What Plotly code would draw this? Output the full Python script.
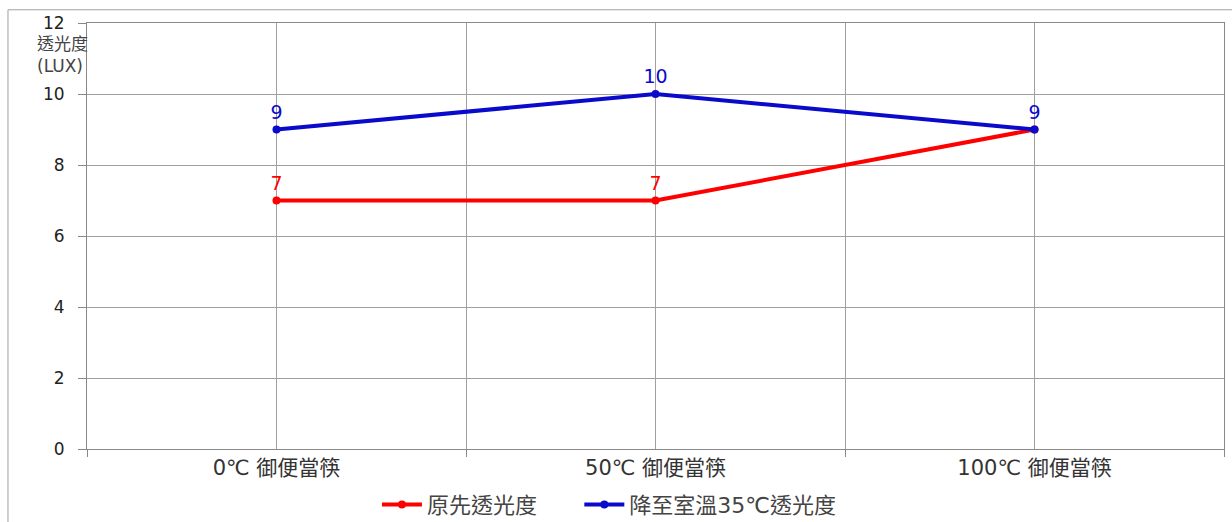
import plotly.graph_objects as go

# Chart data
categories = ["0℃ 御便當筷", "50℃ 御便當筷", "100℃ 御便當筷"]
series_names = ["原先透光度", "降至室溫35℃透光度"]
original_lux = [7, 7, 9]
cooled_lux = [9, 10, 9]
y_ticks = [0, 2, 4, 6, 8, 10, 12]

RED = "#FF0000"
BLUE = "#0A0ACC"
FONT = "DejaVu Sans, Noto Sans CJK TC, sans-serif"

x_pos = list(range(len(categories)))

# red labels: the last point coincides with the blue one, so its label is omitted
red_text = [str(v) for v in original_lux[:-1]] + [""]
blue_text = [str(v) for v in cooled_lux]

fig = go.Figure()
fig.add_trace(go.Scatter(
    x=x_pos, y=original_lux, name=series_names[0], legend="legend",
    mode="lines+markers+text", text=red_text, textposition="top center",
    textfont=dict(color=RED, size=19, family=FONT),
    line=dict(color=RED, width=4), marker=dict(color=RED, size=8),
))
fig.add_trace(go.Scatter(
    x=x_pos, y=cooled_lux, name=series_names[1], legend="legend2",
    mode="lines+markers+text", text=blue_text, textposition="top center",
    textfont=dict(color=BLUE, size=19, family=FONT),
    line=dict(color=BLUE, width=4), marker=dict(color=BLUE, size=8),
))

grid = "#A0A0A0"
legend_style = dict(orientation="h", xanchor="left", y=-0.131, yanchor="middle",
                    font=dict(size=22, color="#444444"), itemwidth=40)
fig.update_layout(
    width=1232, height=522,
    margin=dict(l=87, r=8, t=23, b=73, autoexpand=False),
    paper_bgcolor="white", plot_bgcolor="white",
    font=dict(family=FONT, color="#333333", size=16),
    showlegend=True,
    legend=dict(x=0.255, **legend_style),
    legend2=dict(x=0.433, **legend_style),
    xaxis=dict(
        range=[-0.5, 2.5], tickmode="array", tickvals=x_pos, ticktext=categories,
        showgrid=True, gridcolor=grid, gridwidth=1, ticks="",
        showline=True, linecolor="#888888", linewidth=1, mirror=True,
        zeroline=False, tickfont=dict(size=21, color="#333333"),
        minor=dict(tickvals=[-0.5, 0.5, 1.5, 2.5], showgrid=True, gridcolor=grid,
                   ticks="outside", ticklen=7, tickcolor="#888888"),
    ),
    yaxis=dict(
        range=[0, 12], tickmode="array", tickvals=y_ticks,
        showgrid=True, gridcolor=grid, gridwidth=1,
        ticks="outside", ticklen=8, tickcolor="#888888", ticklabelstandoff=10,
        showline=True, linecolor="#888888", linewidth=1, mirror=True,
        zeroline=False, tickfont=dict(size=17, color="#222222"),
    ),
)

# y-axis caption placed horizontally between the top two ticks
fig.add_annotation(
    text="透光度<br>(LUX)", xref="paper", yref="paper",
    x=-0.046, y=0.98, xanchor="left", yanchor="top", align="left",
    showarrow=False, font=dict(size=17, color="#444444", family=FONT),
)

# outer chart border
fig.add_shape(type="rect", xref="paper", yref="paper",
              x0=-0.0695, x1=1.02, y0=-0.2, y1=1.031,
              line=dict(color="#A0A0A0", width=1), layer="below")

fig.write_html("out.html")
